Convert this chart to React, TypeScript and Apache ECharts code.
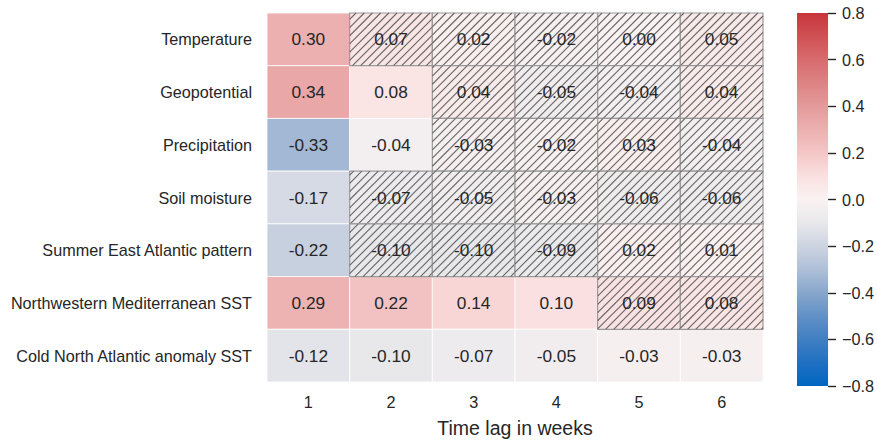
import React, { useEffect, useRef } from "react";
import * as echarts from "echarts";

const rowLabels = [
  "Temperature",
  "Geopotential",
  "Precipitation",
  "Soil moisture",
  "Summer East Atlantic pattern",
  "Northwestern Mediterranean SST",
  "Cold North Atlantic anomaly SST",
];
const lagLabels = ["1", "2", "3", "4", "5", "6"];

const temperature = [0.3, 0.07, 0.02, -0.02, 0.0, 0.05];
const geopotential = [0.34, 0.08, 0.04, -0.05, -0.04, 0.04];
const precipitation = [-0.33, -0.04, -0.03, -0.02, 0.03, -0.04];
const soilMoisture = [-0.17, -0.07, -0.05, -0.03, -0.06, -0.06];
const summerEA = [-0.22, -0.1, -0.1, -0.09, 0.02, 0.01];
const nwMedSST = [0.29, 0.22, 0.14, 0.1, 0.09, 0.08];
const coldNASST = [-0.12, -0.1, -0.07, -0.05, -0.03, -0.03];

// 1 = not significant (hatched)
const hatchTemperature = [0, 1, 1, 1, 1, 1];
const hatchGeopotential = [0, 0, 1, 1, 1, 1];
const hatchPrecipitation = [0, 0, 1, 1, 1, 1];
const hatchSoilMoisture = [0, 1, 1, 1, 1, 1];
const hatchSummerEA = [0, 1, 1, 1, 1, 1];
const hatchNwMedSST = [0, 0, 0, 0, 1, 1];
const hatchColdNASST = [0, 0, 0, 0, 0, 0];

const colorbarTicks = [-0.8, 0.8];
// colours from -0.8 to 0.8, step 0.1
const paletteStops = [
  "#0066c0", "#2070c2", "#3f7fc2", "#6191c7", "#88a6cc", "#aec0d7",
  "#cdd4e1", "#e8e8eb", "#faf2f2", "#fae0e0", "#f4c6c6", "#ecb0b0",
  "#e49a9a", "#dd8384", "#d76b6d", "#cf5154", "#c8353a",
];

const FONT = "'Liberation Sans', Arial, sans-serif";
const TXT = "#262626";

export default function App() {
  const ref = useRef<HTMLDivElement>(null);

  useEffect(() => {
    if (!ref.current) return;
    const chart = echarts.init(ref.current, undefined, { renderer: "svg" });

    const rows = [temperature, geopotential, precipitation, soilMoisture, summerEA, nwMedSST, coldNASST];
    const hatches = [hatchTemperature, hatchGeopotential, hatchPrecipitation, hatchSoilMoisture, hatchSummerEA, hatchNwMedSST, hatchColdNASST];
    const plain: number[][] = [];
    const hatched: number[][] = [];
    rows.forEach((vals, r) => {
      vals.forEach((v, c) => {
        const h = hatches[r][c];
        (h ? hatched : plain).push([c, r, v, h]);
      });
    });
    const data = plain.concat(hatched);

    const step = 8.2;
    const n = paletteStops.length;
    const gradStops = paletteStops
      .map((col, i) => ({ offset: i / (n - 1), color: paletteStops[n - 1 - i] }));

    const option: any = {
      animation: false,
      backgroundColor: "#ffffff",
      textStyle: { fontFamily: FONT },
      grid: [
        { left: 267, right: 114, top: 13, bottom: 56, containLabel: false },
        { left: 797, width: 32, top: 13, height: 373, containLabel: false },
      ],
      xAxis: [
        {
          type: "category",
          gridIndex: 0,
          data: lagLabels,
          axisLine: { show: false },
          axisTick: { show: false },
          splitLine: { show: false },
          axisLabel: { color: TXT, fontSize: 16.2, fontFamily: FONT, margin: 12 },
          name: "Time lag in weeks",
          nameLocation: "middle",
          nameGap: 36,
          nameTextStyle: { color: TXT, fontSize: 19.5, fontFamily: FONT },
        },
        { type: "category", gridIndex: 1, data: ["cb"], show: false },
      ],
      yAxis: [
        {
          type: "category",
          gridIndex: 0,
          data: rowLabels,
          inverse: true,
          axisLine: { show: false },
          axisTick: { show: false },
          splitLine: { show: false },
          axisLabel: { color: TXT, fontSize: 16.2, fontFamily: FONT, margin: 15 },
        },
        {
          type: "value",
          gridIndex: 1,
          position: "right",
          min: colorbarTicks[0],
          max: colorbarTicks[1],
          interval: 0.2,
          axisLine: { show: false },
          splitLine: { show: false },
          axisTick: { show: true, length: 8, lineStyle: { color: TXT, width: 1.4 } },
          axisLabel: {
            color: TXT,
            fontSize: 16.2,
            fontFamily: FONT,
            margin: 14,
            formatter: (v: number) => (v < -1e-9 ? "\u2212" : "") + Math.abs(v).toFixed(1),
          },
        },
      ],
      visualMap: {
        type: "continuous",
        show: false,
        min: colorbarTicks[0],
        max: colorbarTicks[1],
        dimension: 2,
        seriesIndex: 0,
        inRange: { color: paletteStops },
      },
      series: [
        {
          type: "custom",
          xAxisIndex: 0,
          yAxisIndex: 0,
          encode: { x: 0, y: 1 },
          data,
          renderItem: (params: any, api: any) => {
            const c = api.coord([api.value(0), api.value(1)]);
            const s = api.size([1, 1]);
            const x0 = c[0] - s[0] / 2;
            const y0 = c[1] - s[1] / 2;
            const w = s[0];
            const h = s[1];
            const isH = api.value(3) === 1;
            const val = api.value(2) as number;
            const children: any[] = [
              {
                type: "rect",
                shape: { x: x0, y: y0, width: w, height: h },
                style: {
                  fill: api.visual("color"),
                  stroke: isH ? "#9a9a9a" : "#ffffff",
                  lineWidth: isH ? 1.2 : 0.8,
                },
              },
            ];
            if (isH) {
              const kStart = Math.ceil((x0 + y0) / step) * step;
              const kEnd = x0 + w + y0 + h;
              for (let k = kStart; k < kEnd; k += step) {
                const xa = Math.max(x0, k - (y0 + h));
                const xb = Math.min(x0 + w, k - y0);
                if (xb - xa < 0.5) continue;
                children.push({
                  type: "line",
                  shape: { x1: xa, y1: k - xa, x2: xb, y2: k - xb },
                  style: { stroke: "#686868", lineWidth: 1.15, opacity: 1 },
                });
              }
            }
            children.push({
              type: "text",
              style: {
                text: val.toFixed(2),
                x: c[0],
                y: c[1],
                align: "center",
                verticalAlign: "middle",
                fontSize: 17.3,
                fontFamily: FONT,
                fill: TXT,
              },
            });
            return { type: "group", children };
          },
        },
        {
          type: "custom",
          xAxisIndex: 1,
          yAxisIndex: 1,
          data: [[0, colorbarTicks[0], colorbarTicks[1]]],
          encode: { x: 0, y: [1, 2] },
          renderItem: (params: any, api: any) => {
            const top = api.coord([0, api.value(2)]);
            const bottom = api.coord([0, api.value(1)]);
            const sz = api.size([1, 0]);
            return {
              type: "rect",
              shape: { x: top[0] - sz[0] / 2, y: top[1], width: sz[0], height: bottom[1] - top[1] },
              style: {
                fill: {
                  type: "linear",
                  x: 0,
                  y: 0,
                  x2: 0,
                  y2: 1,
                  colorStops: gradStops,
                },
              },
            };
          },
        },
      ],
    };
    chart.setOption(option);
    return () => chart.dispose();
  }, []);

  return (
    <div
      ref={ref}
      style={{ position: "fixed", left: 0, top: 0, width: 877, height: 443, background: "#fff" }}
    />
  );
}
